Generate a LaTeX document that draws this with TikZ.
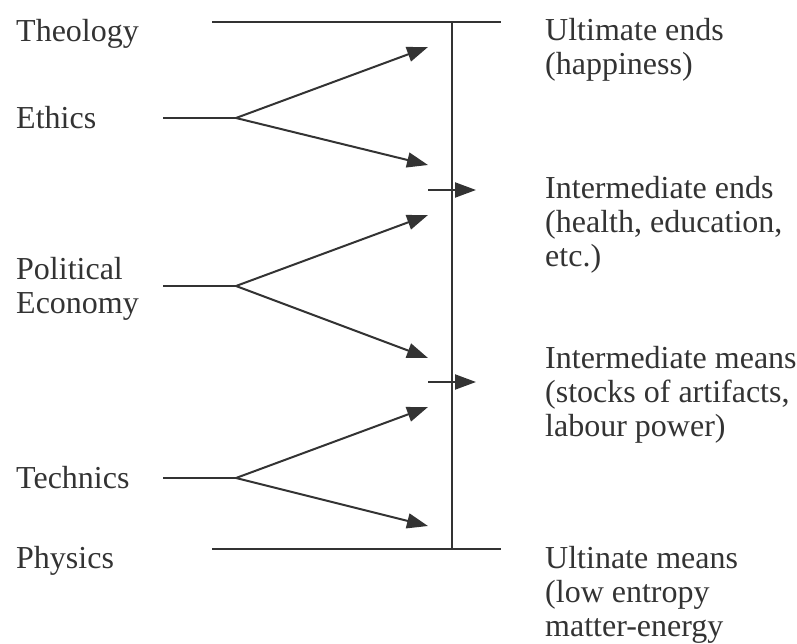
\documentclass[tikz,border=0pt]{standalone}
\usepackage{fontspec}
\setmainfont{Liberation Serif}
\usetikzlibrary{arrows.meta}
\definecolor{ink}{HTML}{333333}
\tikzset{
  lbl/.style={anchor=base west, inner sep=0pt, align=left, text=ink,
    font=\fontsize{32}{34}\selectfont},
  ln/.style={ink, line width=2pt},
  arr/.style={ln, -{Triangle[length=21pt,width=15pt]}}
}

\begin{document}
\begin{tikzpicture}[x=1pt,y=-1pt]
\useasboundingbox (0,0) rectangle (797,644);
% left column (base = last line)
\node[lbl] (theo) at (16,42) {Theology};
\node[lbl] (eth) at (16,129) {Ethics};
\node[lbl] (pol) at (16,313) {Political\\Economy};
\node[lbl] (tech) at (16,488) {Technics};
\node[lbl] (phys) at (16,568) {Physics};
% right column
\node[lbl] (ult) at (545,75) {Ultimate ends\\(happiness)};
\node[lbl] (ie) at (545,266) {Intermediate ends\\(health, education,\\etc.)};
\node[lbl] (im) at (545,436) {Intermediate means\\(stocks of artifacts,\\labour power)};
\node[lbl] (um) at (545,636) {Ultinate means\\(low entropy\\matter-energy};
% frame
\coordinate (topL) at (212,22);
\coordinate (topR) at (501,22);
\coordinate (botL) at (212,549);
\coordinate (botR) at (501,549);
\coordinate (spT) at (452,22);
\coordinate (spB) at (452,549);
\draw[ln] (topL) -- (topR);
\draw[ln] (botL) -- (botR);
\draw[ln] (spT) -- (spB);
% forks
\coordinate (ethS) at (163,118);  \coordinate (ethF) at (236,118);
\coordinate (polS) at (163,286);  \coordinate (polF) at (236,286);
\coordinate (tecS) at (163,478);  \coordinate (tecF) at (236,478);
\coordinate (t1) at (428,47);   \coordinate (t2) at (428,165);
\coordinate (t3) at (428,215);  \coordinate (t4) at (428,358);
\coordinate (t5) at (428,407);  \coordinate (t6) at (428,526);
\draw[ln] (ethS) -- (ethF);
\draw[arr] (ethF) -- (t1);
\draw[arr] (ethF) -- (t2);
\draw[ln] (polS) -- (polF);
\draw[arr] (polF) -- (t3);
\draw[arr] (polF) -- (t4);
\draw[ln] (tecS) -- (tecF);
\draw[arr] (tecF) -- (t5);
\draw[arr] (tecF) -- (t6);
% crossings
\coordinate (c1) at (428,190);  \coordinate (c1e) at (476,190);
\coordinate (c2) at (428,382);  \coordinate (c2e) at (476,382);
\draw[arr] (c1) -- (c1e);
\draw[arr] (c2) -- (c2e);
\end{tikzpicture}
\end{document}
